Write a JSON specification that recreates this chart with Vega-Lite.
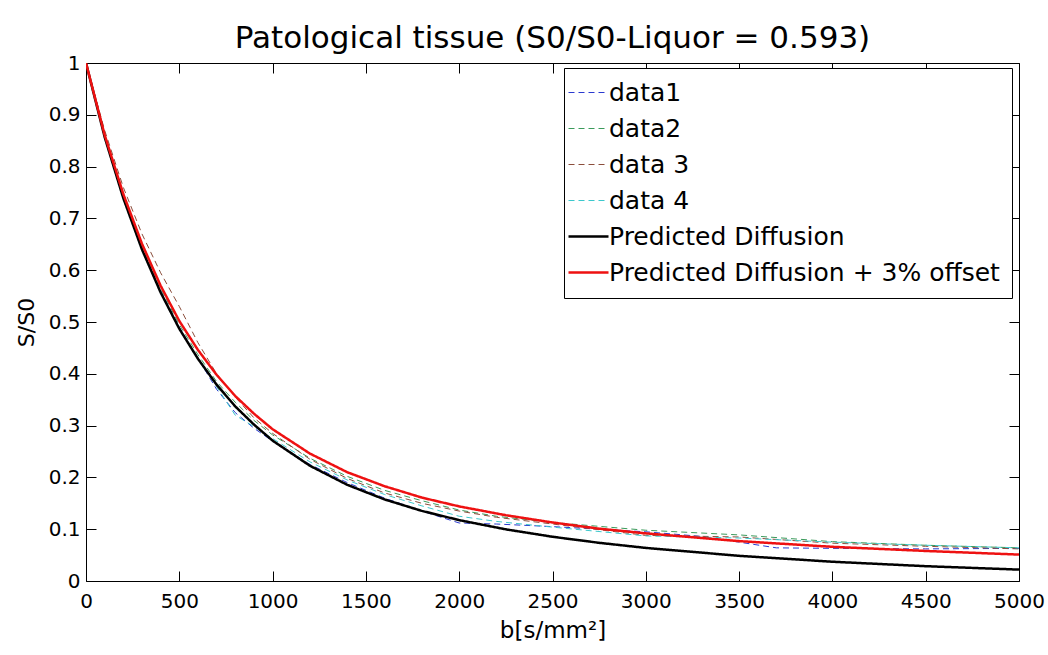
{
  "$schema": "https://vega.github.io/schema/vega-lite/v6.json",
  "width": 933,
  "height": 518,
  "autosize": {"type": "none"},
  "padding": {"left": 86, "top": 63, "right": 29, "bottom": 74},
  "background": "white",
  "config": {
    "font": "DejaVu Sans",
    "view": {"stroke": "black", "strokeWidth": 1},
    "axis": {"grid": false, "ticks": true, "zindex": 1, "labelColor": "black", "titleColor": "black", "domainColor": "black", "tickColor": "black", "labelFont": "DejaVu Sans", "titleFont": "DejaVu Sans", "titleFontWeight": "normal", "tickWidth": 1, "tickOpacity": 1}
  },
  "title": {"text": "Patological tissue (S0/S0-Liquor = 0.593)", "fontSize": 31, "fontWeight": "normal", "color": "black", "anchor": "middle", "offset": -2, "font": "DejaVu Sans"},
  "data": {"values": [
    {"b": 0, "v": 1.0, "s": "data1"},
    {"b": 100, "v": 0.86, "s": "data1"},
    {"b": 200, "v": 0.745, "s": "data1"},
    {"b": 300, "v": 0.645, "s": "data1"},
    {"b": 400, "v": 0.56, "s": "data1"},
    {"b": 500, "v": 0.49, "s": "data1"},
    {"b": 600, "v": 0.43, "s": "data1"},
    {"b": 700, "v": 0.37, "s": "data1"},
    {"b": 800, "v": 0.325, "s": "data1"},
    {"b": 900, "v": 0.295, "s": "data1"},
    {"b": 1000, "v": 0.27, "s": "data1"},
    {"b": 1200, "v": 0.225, "s": "data1"},
    {"b": 1400, "v": 0.19, "s": "data1"},
    {"b": 1600, "v": 0.16, "s": "data1"},
    {"b": 1800, "v": 0.135, "s": "data1"},
    {"b": 2000, "v": 0.112, "s": "data1"},
    {"b": 2200, "v": 0.11, "s": "data1"},
    {"b": 2500, "v": 0.105, "s": "data1"},
    {"b": 3000, "v": 0.095, "s": "data1"},
    {"b": 3300, "v": 0.086, "s": "data1"},
    {"b": 3700, "v": 0.064, "s": "data1"},
    {"b": 4000, "v": 0.063, "s": "data1"},
    {"b": 4500, "v": 0.062, "s": "data1"},
    {"b": 5000, "v": 0.063, "s": "data1"},

    {"b": 0, "v": 1.0, "s": "data2"},
    {"b": 100, "v": 0.86, "s": "data2"},
    {"b": 200, "v": 0.745, "s": "data2"},
    {"b": 300, "v": 0.648, "s": "data2"},
    {"b": 400, "v": 0.565, "s": "data2"},
    {"b": 500, "v": 0.495, "s": "data2"},
    {"b": 600, "v": 0.437, "s": "data2"},
    {"b": 700, "v": 0.385, "s": "data2"},
    {"b": 800, "v": 0.345, "s": "data2"},
    {"b": 900, "v": 0.31, "s": "data2"},
    {"b": 1000, "v": 0.282, "s": "data2"},
    {"b": 1200, "v": 0.237, "s": "data2"},
    {"b": 1400, "v": 0.202, "s": "data2"},
    {"b": 1600, "v": 0.175, "s": "data2"},
    {"b": 1800, "v": 0.155, "s": "data2"},
    {"b": 2000, "v": 0.137, "s": "data2"},
    {"b": 2200, "v": 0.125, "s": "data2"},
    {"b": 2500, "v": 0.113, "s": "data2"},
    {"b": 3000, "v": 0.098, "s": "data2"},
    {"b": 3500, "v": 0.089, "s": "data2"},
    {"b": 4000, "v": 0.076, "s": "data2"},
    {"b": 4500, "v": 0.069, "s": "data2"},
    {"b": 5000, "v": 0.064, "s": "data2"},

    {"b": 0, "v": 1.0, "s": "data 3"},
    {"b": 100, "v": 0.87, "s": "data 3"},
    {"b": 200, "v": 0.76, "s": "data 3"},
    {"b": 300, "v": 0.67, "s": "data 3"},
    {"b": 400, "v": 0.595, "s": "data 3"},
    {"b": 500, "v": 0.53, "s": "data 3"},
    {"b": 600, "v": 0.46, "s": "data 3"},
    {"b": 700, "v": 0.40, "s": "data 3"},
    {"b": 800, "v": 0.355, "s": "data 3"},
    {"b": 900, "v": 0.315, "s": "data 3"},
    {"b": 1000, "v": 0.285, "s": "data 3"},
    {"b": 1200, "v": 0.235, "s": "data 3"},
    {"b": 1400, "v": 0.198, "s": "data 3"},
    {"b": 1600, "v": 0.17, "s": "data 3"},
    {"b": 1800, "v": 0.15, "s": "data 3"},
    {"b": 2000, "v": 0.135, "s": "data 3"},
    {"b": 2200, "v": 0.123, "s": "data 3"},
    {"b": 2500, "v": 0.11, "s": "data 3"},
    {"b": 3000, "v": 0.088, "s": "data 3"},
    {"b": 3500, "v": 0.085, "s": "data 3"},
    {"b": 4000, "v": 0.073, "s": "data 3"},
    {"b": 4500, "v": 0.067, "s": "data 3"},
    {"b": 5000, "v": 0.062, "s": "data 3"},

    {"b": 0, "v": 1.0, "s": "data 4"},
    {"b": 100, "v": 0.858, "s": "data 4"},
    {"b": 200, "v": 0.742, "s": "data 4"},
    {"b": 300, "v": 0.643, "s": "data 4"},
    {"b": 400, "v": 0.558, "s": "data 4"},
    {"b": 500, "v": 0.488, "s": "data 4"},
    {"b": 600, "v": 0.43, "s": "data 4"},
    {"b": 700, "v": 0.375, "s": "data 4"},
    {"b": 800, "v": 0.32, "s": "data 4"},
    {"b": 900, "v": 0.298, "s": "data 4"},
    {"b": 1000, "v": 0.275, "s": "data 4"},
    {"b": 1200, "v": 0.23, "s": "data 4"},
    {"b": 1400, "v": 0.195, "s": "data 4"},
    {"b": 1600, "v": 0.167, "s": "data 4"},
    {"b": 1800, "v": 0.145, "s": "data 4"},
    {"b": 2000, "v": 0.125, "s": "data 4"},
    {"b": 2200, "v": 0.115, "s": "data 4"},
    {"b": 2500, "v": 0.104, "s": "data 4"},
    {"b": 3000, "v": 0.087, "s": "data 4"},
    {"b": 3500, "v": 0.083, "s": "data 4"},
    {"b": 4000, "v": 0.075, "s": "data 4"},
    {"b": 4500, "v": 0.069, "s": "data 4"},
    {"b": 5000, "v": 0.064, "s": "data 4"},

    {"b": 0, "v": 1.0, "s": "Predicted Diffusion"},
    {"b": 100, "v": 0.857, "s": "Predicted Diffusion"},
    {"b": 200, "v": 0.739, "s": "Predicted Diffusion"},
    {"b": 300, "v": 0.640, "s": "Predicted Diffusion"},
    {"b": 400, "v": 0.557, "s": "Predicted Diffusion"},
    {"b": 500, "v": 0.487, "s": "Predicted Diffusion"},
    {"b": 600, "v": 0.429, "s": "Predicted Diffusion"},
    {"b": 700, "v": 0.379, "s": "Predicted Diffusion"},
    {"b": 800, "v": 0.337, "s": "Predicted Diffusion"},
    {"b": 900, "v": 0.302, "s": "Predicted Diffusion"},
    {"b": 1000, "v": 0.271, "s": "Predicted Diffusion"},
    {"b": 1200, "v": 0.2225, "s": "Predicted Diffusion"},
    {"b": 1400, "v": 0.1857, "s": "Predicted Diffusion"},
    {"b": 1600, "v": 0.1575, "s": "Predicted Diffusion"},
    {"b": 1800, "v": 0.1353, "s": "Predicted Diffusion"},
    {"b": 2000, "v": 0.1175, "s": "Predicted Diffusion"},
    {"b": 2250, "v": 0.0997, "s": "Predicted Diffusion"},
    {"b": 2500, "v": 0.0854, "s": "Predicted Diffusion"},
    {"b": 2750, "v": 0.0737, "s": "Predicted Diffusion"},
    {"b": 3000, "v": 0.0639, "s": "Predicted Diffusion"},
    {"b": 3500, "v": 0.0486, "s": "Predicted Diffusion"},
    {"b": 4000, "v": 0.0372, "s": "Predicted Diffusion"},
    {"b": 4500, "v": 0.0286, "s": "Predicted Diffusion"},
    {"b": 5000, "v": 0.022, "s": "Predicted Diffusion"},

    {"b": 0, "v": 1.0, "s": "Predicted Diffusion + 3% offset"},
    {"b": 100, "v": 0.861, "s": "Predicted Diffusion + 3% offset"},
    {"b": 200, "v": 0.747, "s": "Predicted Diffusion + 3% offset"},
    {"b": 300, "v": 0.651, "s": "Predicted Diffusion + 3% offset"},
    {"b": 400, "v": 0.570, "s": "Predicted Diffusion + 3% offset"},
    {"b": 500, "v": 0.502, "s": "Predicted Diffusion + 3% offset"},
    {"b": 600, "v": 0.446, "s": "Predicted Diffusion + 3% offset"},
    {"b": 700, "v": 0.398, "s": "Predicted Diffusion + 3% offset"},
    {"b": 800, "v": 0.357, "s": "Predicted Diffusion + 3% offset"},
    {"b": 900, "v": 0.323, "s": "Predicted Diffusion + 3% offset"},
    {"b": 1000, "v": 0.293, "s": "Predicted Diffusion + 3% offset"},
    {"b": 1200, "v": 0.246, "s": "Predicted Diffusion + 3% offset"},
    {"b": 1400, "v": 0.210, "s": "Predicted Diffusion + 3% offset"},
    {"b": 1600, "v": 0.183, "s": "Predicted Diffusion + 3% offset"},
    {"b": 1800, "v": 0.161, "s": "Predicted Diffusion + 3% offset"},
    {"b": 2000, "v": 0.144, "s": "Predicted Diffusion + 3% offset"},
    {"b": 2250, "v": 0.127, "s": "Predicted Diffusion + 3% offset"},
    {"b": 2500, "v": 0.113, "s": "Predicted Diffusion + 3% offset"},
    {"b": 2750, "v": 0.101, "s": "Predicted Diffusion + 3% offset"},
    {"b": 3000, "v": 0.092, "s": "Predicted Diffusion + 3% offset"},
    {"b": 3500, "v": 0.077, "s": "Predicted Diffusion + 3% offset"},
    {"b": 4000, "v": 0.066, "s": "Predicted Diffusion + 3% offset"},
    {"b": 4500, "v": 0.058, "s": "Predicted Diffusion + 3% offset"},
    {"b": 5000, "v": 0.051, "s": "Predicted Diffusion + 3% offset"}
  ]},
  "layer": [
    {
      "mark": {"type": "line", "clip": true},
      "encoding": {
        "x": {"field": "b", "type": "quantitative", "scale": {"domain": [0, 5000], "nice": false, "zero": false},
          "axis": {"orient": "bottom", "offset": -10, "title": "b[s/mm²]", "titleFontSize": 23, "titlePadding": 8, "labelFontSize": 20, "format": "d", "values": [0, 500, 1000, 1500, 2000, 2500, 3000, 3500, 4000, 4500, 5000], "tickSize": 10, "labelPadding": 10, "domain": false, "labelFlush": false}},
        "y": {"field": "v", "type": "quantitative", "scale": {"domain": [0, 1], "nice": false, "zero": false},
          "axis": {"orient": "left", "offset": -10, "title": "S/S0", "titleFontSize": 22, "titlePadding": 10, "labelFontSize": 20, "format": "~g", "values": [0, 0.1, 0.2, 0.3, 0.4, 0.5, 0.6, 0.7, 0.8, 0.9, 1], "tickSize": 10, "labelPadding": 6, "domain": false, "labelFlush": false}},
        "color": {"field": "s", "type": "nominal",
          "scale": {"domain": ["data1", "data2", "data 3", "data 4", "Predicted Diffusion", "Predicted Diffusion + 3% offset"],
                    "range": ["#2a3ad0", "#3a9a5a", "#8b4e3c", "#3cc8cc", "#000000", "#ee1111"]},
          "legend": {"title": null, "orient": "none", "legendX": 478, "legendY": 5, "strokeColor": "black", "fillColor": "white", "padding": 12, "labelFontSize": 25, "labelFont": "DejaVu Sans", "labelColor": "black", "labelLimit": 0, "symbolType": "stroke", "symbolSize": 1600, "rowPadding": 10, "labelOffset": 8, "cornerRadius": 0,
            "encode": {"symbols": {"update": {"strokeWidth": {"signal": "datum.value === 'Predicted Diffusion' || datum.value === 'Predicted Diffusion + 3% offset' ? 2.5 : 1"}}}}}},
        "strokeDash": {"field": "s", "type": "nominal",
          "scale": {"domain": ["data1", "data2", "data 3", "data 4", "Predicted Diffusion", "Predicted Diffusion + 3% offset"],
                    "range": [[6, 4], [6, 4], [6, 4], [6, 4], [1, 0], [1, 0]]}},
        "strokeWidth": {"condition": {"test": "datum.s === 'Predicted Diffusion' || datum.s === 'Predicted Diffusion + 3% offset'", "value": 2.5}, "value": 1}
      }
    },
    {
      "mark": {"type": "line", "opacity": 0},
      "encoding": {
        "x": {"field": "b", "type": "quantitative", "axis": {"orient": "top", "offset": -10, "title": null, "labels": false, "domain": false, "tickSize": 10, "values": [0, 500, 1000, 1500, 2000, 2500, 3000, 3500, 4000, 4500, 5000]}},
        "y": {"field": "v", "type": "quantitative", "axis": {"orient": "right", "offset": -10, "title": null, "labels": false, "domain": false, "tickSize": 10, "values": [0, 0.1, 0.2, 0.3, 0.4, 0.5, 0.6, 0.7, 0.8, 0.9, 1]}},
        "detail": {"field": "s", "type": "nominal"}
      }
    }
  ],
  "resolve": {"axis": {"x": "independent", "y": "independent"}}
}
